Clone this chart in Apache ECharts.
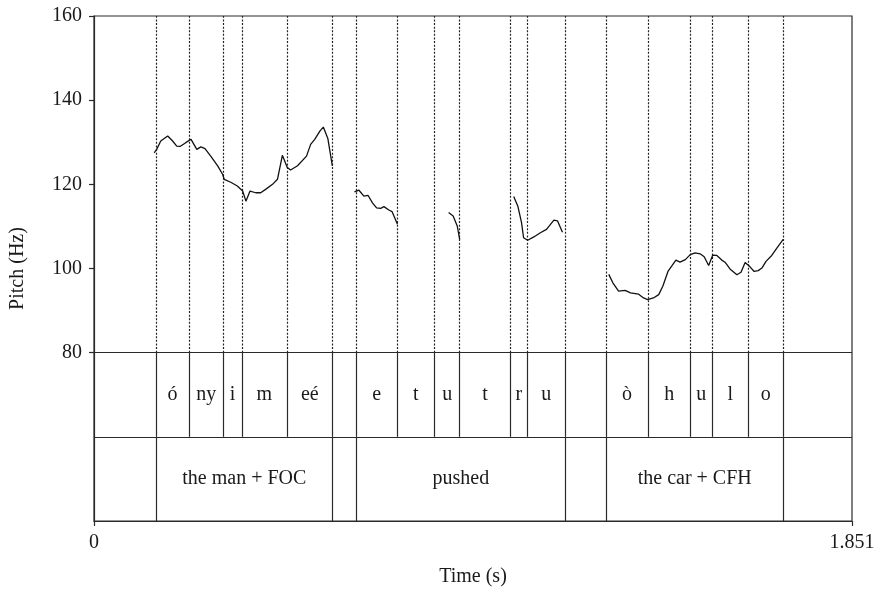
<!DOCTYPE html>
<html>
<head>
<meta charset="utf-8">
<script src="https://cdn.jsdelivr.net/npm/echarts@6/dist/echarts.min.js"></script>
<style>html,body{margin:0;padding:0;background:#fff}#c{width:881px;height:592px}</style>
</head>
<body>
<div id="c"></div>
<script>
// ---- data ----
var xMax = 1.851;
var yTicks = [80, 100, 120, 140, 160];
var xTicks = [0, 1.851];

var seg1T = [0.147,0.153,0.163,0.180,0.192,0.202,0.210,0.224,0.237,0.241,0.251,0.261,0.271,0.285,0.302,0.314,0.318,0.334,0.350,0.363,0.371,0.381,0.395,0.407,0.419,0.436,0.448,0.460,0.472,0.480,0.497,0.519,0.529,0.539,0.552,0.560,0.571,0.582];
var seg1Hz = [127.5,128.3,130.3,131.5,130.3,129.1,129.0,129.9,130.7,130.3,128.3,128.9,128.5,126.7,124.4,122.4,121.2,120.5,119.6,118.4,116.0,118.4,118.0,118.0,118.8,120.0,121.2,126.9,124.0,123.4,124.4,126.7,129.5,130.7,132.7,133.6,130.9,124.4];
var seg2T = [0.636,0.647,0.659,0.669,0.680,0.690,0.700,0.708,0.720,0.728,0.741];
var seg2Hz = [118.2,118.6,117.2,117.4,115.6,114.4,114.3,114.7,113.9,113.5,110.5];
var seg3T = [0.866,0.877,0.887,0.893];
var seg3Hz = [113.3,112.5,110.1,106.9];
var seg4T = [1.025,1.035,1.044,1.049,1.059,1.074,1.090,1.105,1.123,1.132,1.144];
var seg4Hz = [117.1,114.8,110.9,107.3,106.7,107.5,108.5,109.3,111.5,111.3,108.6];
var seg5T = [1.257,1.267,1.281,1.297,1.310,1.330,1.342,1.352,1.366,1.379,1.389,1.402,1.411,1.421,1.431,1.444,1.456,1.468,1.480,1.490,1.501,1.511,1.521,1.533,1.541,1.553,1.570,1.580,1.590,1.602,1.612,1.622,1.631,1.641,1.655,1.667,1.683];
var seg5Hz = [98.6,96.6,94.6,94.8,94.2,93.9,93.0,92.6,93.0,93.8,95.8,99.4,100.6,102.0,101.5,102.1,103.3,103.7,103.5,102.8,100.7,103.2,103.1,102.0,101.5,99.9,98.5,99.1,101.4,100.4,99.3,99.5,100.1,101.7,103.1,104.8,106.9];

var phoneBounds = [0.151,0.232,0.316,0.361,0.471,0.583,0.641,0.740,0.832,0.893,1.017,1.058,1.151,1.250,1.353,1.456,1.510,1.597,1.684];
var phoneLabels = ['ó','ny','i','m','eé','','e','t','u','t','r','u','','ò','h','u','l','o'];
var wordBounds = [0.151,0.583,0.641,1.151,1.250,1.684];
var wordLabels = ['the man + FOC','','pushed','','the car + CFH'];

// ---- build ----
var FONT = 'Liberation Serif';
var TXT = '#1a1a1a';
var LINE = '#2a2a2a';

function zip(t, h) { return t.map(function (v, i) { return [v, h[i]]; }); }
var segs = [zip(seg1T, seg1Hz), zip(seg2T, seg2Hz), zip(seg3T, seg3Hz), zip(seg4T, seg4Hz), zip(seg5T, seg5Hz)];

var series = segs.map(function (d) {
  return {
    type: 'line', data: d, symbol: 'none', silent: true,
    lineStyle: { color: '#111', width: 1.3 }, z: 5
  };
});

var dotted = phoneBounds.map(function (t) { return [{ coord: [t, 80] }, { coord: [t, 160] }]; });
var tier1V = phoneBounds.map(function (t) { return [{ coord: [t, 60] }, { coord: [t, 80] }]; });
var tier2V = wordBounds.map(function (t) { return [{ coord: [t, 40] }, { coord: [t, 60] }]; });
var hLines = [[{ coord: [0, 80] }, { coord: [xMax, 80] }], [{ coord: [0, 60] }, { coord: [xMax, 60] }]];

series.push({
  type: 'line', data: [], silent: true,
  markLine: {
    silent: true, symbol: ['none', 'none'], label: { show: false },
    lineStyle: { color: '#222', width: 1.2, type: [2, 1.6] },
    data: dotted
  }
});
series.push({
  type: 'line', data: [], silent: true,
  markLine: {
    silent: true, symbol: ['none', 'none'], label: { show: false },
    lineStyle: { color: LINE, width: 1.2, type: 'solid' },
    data: tier1V.concat(tier2V).concat(hLines)
  }
});

var labelData = [];
for (var i = 0; i < phoneLabels.length; i++) {
  if (phoneLabels[i]) labelData.push([(phoneBounds[i] + phoneBounds[i + 1]) / 2, 70, phoneLabels[i]]);
}
for (var j = 0; j < wordLabels.length; j++) {
  if (wordLabels[j]) labelData.push([(wordBounds[j] + wordBounds[j + 1]) / 2, 50, wordLabels[j]]);
}
series.push({
  type: 'scatter', data: labelData, symbolSize: 0, silent: true,
  itemStyle: { color: '#000', opacity: 1 },
  label: {
    show: true, position: 'inside', color: TXT, fontFamily: FONT, fontSize: 20,
    textBorderWidth: 0, opacity: 1,
    formatter: function (p) { return p.data[2]; }
  }
});

var chart = echarts.init(document.getElementById('c'));
chart.setOption({
  animation: false,
  backgroundColor: '#fff',
  grid: { left: 93, right: 29, top: 16, bottom: 70, show: true, borderColor: LINE, borderWidth: 1.2, backgroundColor: 'transparent' },
  xAxis: {
    type: 'value', min: 0, max: xMax,
    name: 'Time (s)', nameLocation: 'middle', nameGap: 46,
    nameTextStyle: { fontFamily: FONT, fontSize: 20, color: TXT },
    axisLine: { show: true, lineStyle: { color: LINE, width: 1.2 } },
    axisTick: { show: true, customValues: xTicks, length: 5, lineStyle: { color: LINE, width: 1.2 } },
    axisLabel: {
      customValues: xTicks, margin: 12, fontFamily: FONT, fontSize: 20, color: TXT,
      formatter: function (v) { return v === 0 ? '0' : v.toFixed(3); }
    },
    splitLine: { show: false }
  },
  yAxis: {
    type: 'value', min: 40, max: 160, interval: 20,
    name: 'Pitch (Hz)', nameLocation: 'middle', nameGap: 66,
    nameTextStyle: { fontFamily: FONT, fontSize: 20, color: TXT },
    axisLine: { show: true, lineStyle: { color: LINE, width: 1.2 } },
    axisTick: { show: true, customValues: yTicks, length: 5, lineStyle: { color: LINE, width: 1.2 } },
    axisLabel: { customValues: yTicks, margin: 12, fontFamily: FONT, fontSize: 20, color: TXT },
    splitLine: { show: false }
  },
  series: series
});
</script>
</body>
</html>
